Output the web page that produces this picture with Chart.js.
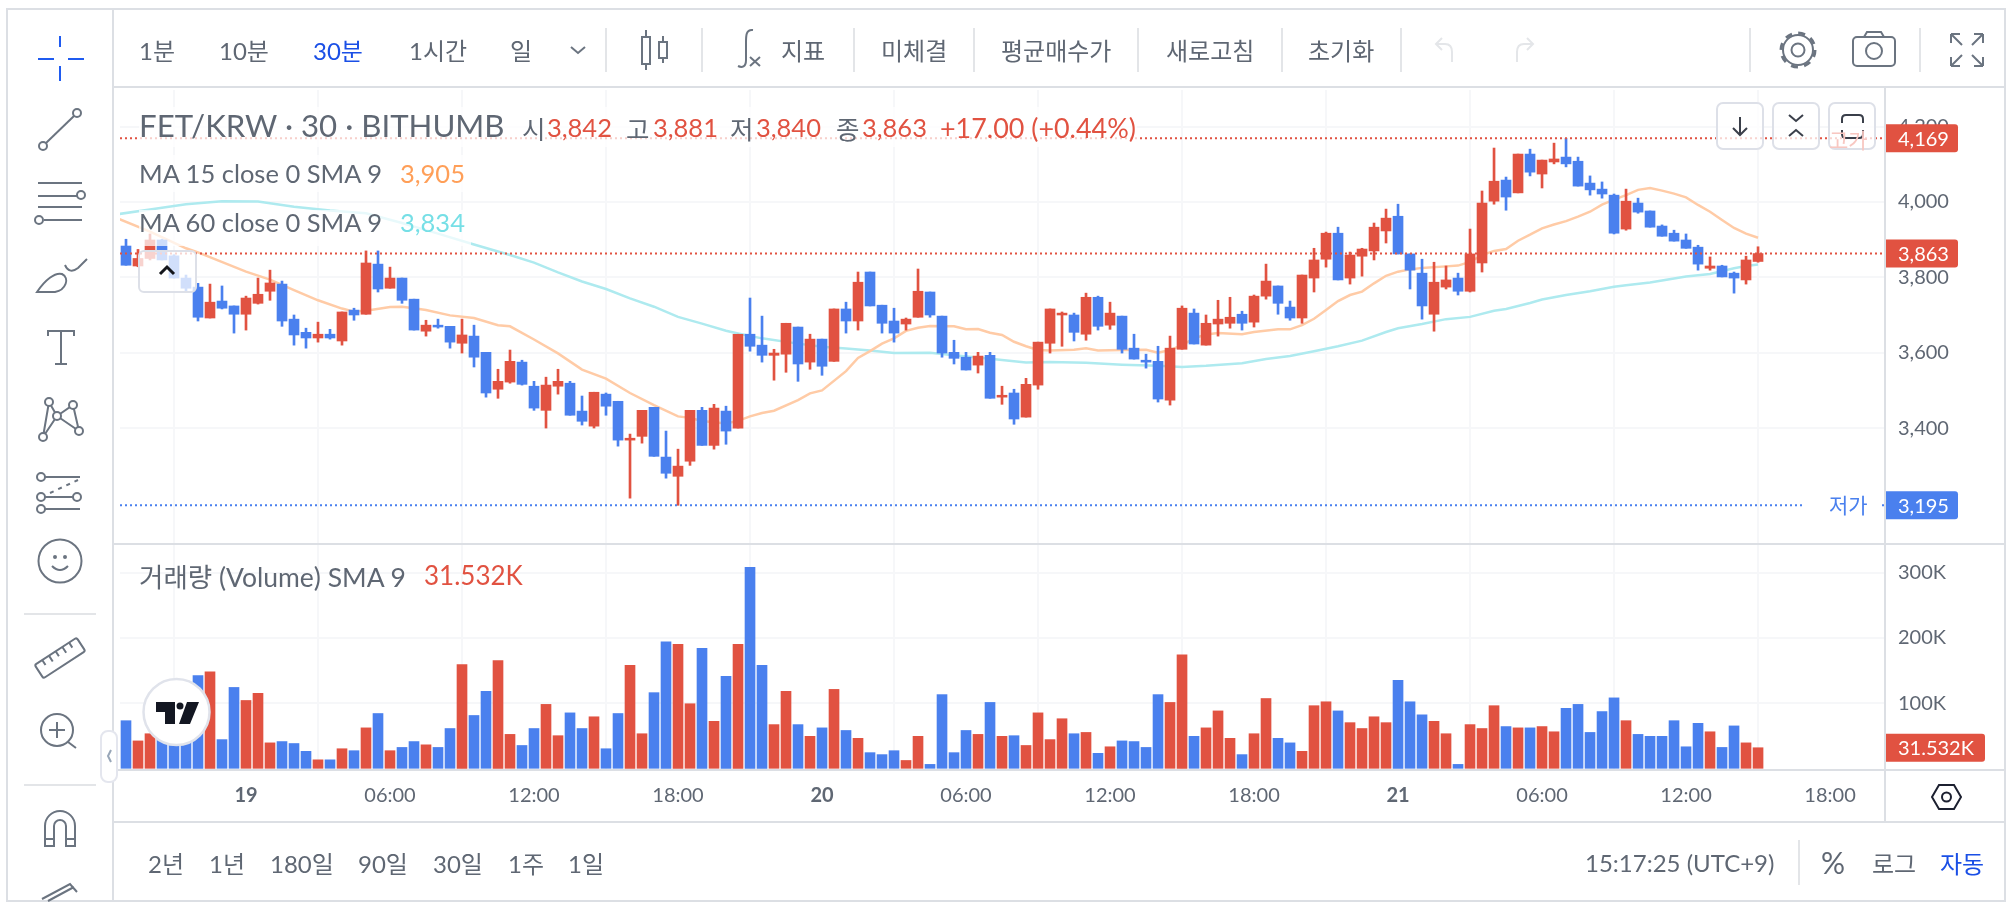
<!DOCTYPE html>
<html lang="ko">
<head>
<meta charset="utf-8">
<title>FET/KRW</title>
<script src="https://cdn.jsdelivr.net/npm/chart.js@4"></script>
<style>
html, body { margin: 0; background: #fff; }
body { width: 2012px; height: 906px; position: relative; overflow: hidden; font-family: Lato, "Noto Sans CJK KR", sans-serif; color: #5f6773; }
canvas { position: absolute; left: 120px; }
#priceChart { top: 90px; }
#volumeChart { top: 545px; }
#ui { position: absolute; left: 0; top: 0; }
.t { position: absolute; transform: translateY(-50%); white-space: nowrap; font-size: 24px; }
.lg { font-size: 25.5px; }
.r { color: #e15241; }
.b { color: #1a4fe6; }
</style>
</head>
<body>
<canvas id="priceChart" width="1884" height="453"></canvas>
<canvas id="volumeChart" width="1884" height="277"></canvas>

<svg id="ui" width="2012" height="906" fill="none" stroke="#6b7480" stroke-width="2">
  <!-- legend rows fade what is behind them -->
  <g stroke="none" fill="#fff" fill-opacity=".72">
    <rect x="139" y="107" width="998" height="40"/>
    <rect x="139" y="155" width="332" height="37"/>
    <rect x="139" y="210" width="332" height="36"/>
  </g>
  <!-- frame -->
  <g stroke="#dcdfe4">
    <rect x="7" y="9" width="1998" height="892"/>
    <path d="M113 9V901M113 87H2005M113 544H2005M113 770H2005M113 822H2005M1885 87V822"/>
  </g>
  <!-- toolbar separators -->
  <path stroke="#e3e5e8" d="M606 28V72M702 28V72M854 28V72M974 28V72M1138 28V72M1282 28V72M1401 28V72M1750 28V72M1920 28V72M1799 840V885M24 614H96M24 785H96"/>
  <!-- crosshair -->
  <path stroke="#1f5bf0" d="M60 36V47M60 66V81M38 59H54M68 59H84"/>
  <!-- sidebar icons -->
  <path d="M46 143L74 116"/><circle cx="43" cy="146" r="4"/><circle cx="77" cy="113" r="4"/>
  <path d="M38 183H82M38 196H77M38 207H82M44 220H82"/><circle cx="81" cy="195" r="4"/><circle cx="39" cy="220" r="4"/>
  <path d="M37 292C45 280 55 272 62 274C70 278 66 290 55 292ZM65 265C68 272 73 272 78 268L87 259"/>
  <path d="M48 336V331H74V336M61 331V364M55 364H67"/>
  <path d="M49 402L43 437L57 416L49 402M57 416L73 405L79 431L57 416"/>
  <g fill="#fff"><circle cx="49" cy="402" r="4"/><circle cx="73" cy="405" r="4"/><circle cx="57" cy="416" r="4"/><circle cx="43" cy="437" r="4"/><circle cx="79" cy="431" r="4"/></g>
  <path d="M45 477H80M45 497H73M45 509H80"/><path stroke-dasharray="4 5" d="M50 493L78 480"/>
  <circle cx="41" cy="477" r="4"/><circle cx="41" cy="497" r="4"/><circle cx="77" cy="497" r="4"/><circle cx="41" cy="509" r="4"/>
  <circle cx="60" cy="561" r="21.5"/><path d="M52 566Q60 574 68 566"/><circle cx="55" cy="557" r="1" /><circle cx="65" cy="557" r="1"/>
  <g transform="translate(60,658) rotate(-33)"><rect x="-25" y="-8" width="50" height="16" rx="2"/><path d="M-16 -8V-2M-8 -8V-1M0 -8V-2M8 -8V-1M16 -8V-2"/></g>
  <circle cx="57" cy="730" r="16"/><path d="M49 730H65M57 722V738M68 742L76 748"/>
  <path d="M45 846V826A15 15 0 0 1 75 826V846H66V826A6 6 0 0 0 54 826V846ZM45 839H54M66 839H75"/>
  <path d="M42 899L70 884L77 892M48 901L74 887"/>
  <!-- sidebar collapse tab -->
  <rect x="101" y="731" width="16" height="51" rx="7" fill="#fff" stroke="#e4e6ee"/>
  <path stroke="#98a6b8" d="M111 750L108 756L111 762"/>
  <!-- toolbar icons -->
  <path d="M571 47L578 53L585 47"/>
  <path d="M646 30V70M663 36V63"/>
  <rect x="642" y="37" width="8" height="27" fill="#fff"/><rect x="659" y="42" width="8" height="16" fill="#fff"/>
  <path d="M753 30C746 29 746 36 746 42V60C746 67 742 68 738 66M750 57L760 66M760 57L750 66"/>
  <path stroke="#e4e6e9" d="M1452 62V52Q1452 44 1445 44H1437M1442 38L1436 44L1442 50M1517 62V52Q1517 44 1524 44H1532M1527 38L1533 44L1527 50"/>
  <circle cx="1798" cy="50" r="15"/><circle cx="1798" cy="50" r="6.5"/><circle cx="1798" cy="50" r="17" stroke-width="3" stroke-dasharray="7 6.3"/>
  <rect x="1853" y="37" width="42" height="29" rx="4"/><path d="M1864 37L1867 32H1881L1884 37"/><circle cx="1874" cy="51" r="8"/>
  <path d="M1951 34H1960M1951 34V43M1952 35L1962 45M1983 34H1974M1983 34V43M1982 35L1972 45M1951 66H1960M1951 66V57M1952 65L1962 55M1983 66H1974M1983 66V57M1982 65L1972 55"/>
  <!-- chart buttons -->
  <g fill="#fff" fill-opacity=".75" stroke="#dde0e8">
    <rect x="139" y="251" width="57" height="41" rx="5"/>
    <rect x="1717" y="103" width="46" height="46" rx="6"/>
    <rect x="1773" y="103" width="46" height="46" rx="6"/>
    <rect x="1829" y="103" width="46" height="46" rx="6"/>
  </g>
  <path stroke="#14161c" stroke-width="3" d="M160 274L167 267L174 274"/>
  <path stroke="#3a3f4a" d="M1740 117V135M1733 128L1740 135L1747 128M1789 115L1796 121L1803 115M1789 136L1796 130L1803 136"/>
  <path stroke="#3a3f4a" d="M1842 123V119Q1842 115 1846 115H1859Q1863 115 1863 119V123M1842 130V134Q1842 138 1846 138H1859Q1863 138 1863 134V130"/>
  <!-- TradingView logo -->
  <circle cx="176.5" cy="712" r="33" fill="#fff" stroke="#e0e3eb" stroke-width="2.5"/>
  <path stroke="none" fill="#131722" d="M156 702H175V724H165V712H156ZM187 702H199L190 724H179Z"/>
  <circle cx="180" cy="706" r="3.5" stroke="none" fill="#131722"/>
  <!-- scale mode hexagon -->
  <path stroke="#1c2030" d="M1939 785H1954L1961 797L1954 809H1939L1932 797Z"/><circle cx="1946.5" cy="797" r="4.5" stroke="#1c2030"/>
</svg>

<div class="t" style="left:139px;top:49px">1분</div>
<div class="t" style="left:219px;top:49px">10분</div>
<div class="t b" style="left:313px;top:49px">30분</div>
<div class="t" style="left:409px;top:49px">1시간</div>
<div class="t" style="left:510px;top:49px">일</div>
<div class="t" style="left:781px;top:49px">지표</div>
<div class="t" style="left:881px;top:49px">미체결</div>
<div class="t" style="left:1001px;top:49px">평균매수가</div>
<div class="t" style="left:1166px;top:49px">새로고침</div>
<div class="t" style="left:1308px;top:49px">초기화</div>

<div class="t" style="left:139px;top:125px;font-size:31.2px">FET/KRW · 30 · BITHUMB</div>
<div class="t lg" style="left:522px;top:127px">시</div><div class="t lg r" style="left:547px;top:127px">3,842</div>
<div class="t lg" style="left:626px;top:127px">고</div><div class="t lg r" style="left:653px;top:127px">3,881</div>
<div class="t lg" style="left:730px;top:127px">저</div><div class="t lg r" style="left:756px;top:127px">3,840</div>
<div class="t lg" style="left:836px;top:127px">종</div><div class="t lg r" style="left:862px;top:127px">3,863</div>
<div class="t lg r" style="left:940px;top:127px;font-size:26.9px">+17.00 (+0.44%)</div>
<div class="t lg" style="left:139px;top:173px">MA 15 close 0 SMA 9</div><div class="t lg" style="left:400px;top:173px;color:#ff9f58">3,905</div>
<div class="t lg" style="left:139px;top:222px">MA 60 close 0 SMA 9</div><div class="t lg" style="left:400px;top:222px;color:#76dfe6">3,834</div>
<div class="t lg" style="left:139px;top:575px;font-size:26.5px">거래량 (Volume) SMA 9</div><div class="t lg r" style="left:424px;top:575px;font-size:26px">31.532K</div>
<div class="t" style="left:1829px;top:139px;font-size:21px;color:#f8c7c1">고가</div>
<div class="t" style="left:1829px;top:504px;font-size:21px;color:#4a80ee">저가</div>

<div class="t" style="left:148px;top:862px">2년</div>
<div class="t" style="left:209px;top:862px">1년</div>
<div class="t" style="left:270px;top:862px">180일</div>
<div class="t" style="left:358px;top:862px">90일</div>
<div class="t" style="left:433px;top:862px">30일</div>
<div class="t" style="left:508px;top:862px">1주</div>
<div class="t" style="left:568px;top:862px">1일</div>
<div class="t" style="left:1585px;top:862px">15:17:25 (UTC+9)</div>
<div class="t" style="left:1821px;top:862px;font-size:30px">%</div>
<div class="t" style="left:1872px;top:862px">로그</div>
<div class="t b" style="left:1940px;top:862px">자동</div>

<script>
// 30 minute candles
const opens = [
    3883,3830,3850,3899,3857,3798,3774,3692,3737,3724,
    3702,3731,3763,3782,3689,3654,3639,3649,3631,3713,
    3702,3835,3771,3798,3742,3657,3673,3670,3625,3644,
    3601,3503,3522,3575,3511,3447,3511,3519,3445,3405,
    3490,3471,3368,3378,3455,3323,3272,3312,3447,3354,
    3445,3400,3649,3620,3593,3596,3668,3575,3636,3577,
    3716,3684,3814,3726,3684,3676,3694,3761,3697,3601,
    3588,3567,3593,3482,3493,3429,3514,3625,3700,3700,
    3649,3747,3673,3697,3612,3580,3577,3474,3609,3705,
    3620,3676,3678,3702,3681,3750,3777,3721,3692,3798,
    3848,3917,3798,3856,3870,3923,3962,3862,3811,3702,
    3774,3798,3763,3838,4002,4058,4024,4127,4074,4106,
    4119,4108,4050,4034,4018,3928,3997,3976,3936,3917,
    3899,3880,3824,3830,3811,3793,3842
];
const closes = [
    3832,3850,3899,3846,3798,3771,3694,3734,3718,3702,
    3745,3755,3785,3684,3647,3639,3649,3639,3708,3700,
    3838,3769,3798,3739,3660,3673,3668,3628,3647,3588,
    3493,3524,3577,3516,3453,3514,3524,3434,3418,3495,
    3458,3368,3373,3447,3325,3280,3299,3447,3354,3453,
    3392,3649,3617,3593,3599,3678,3570,3636,3564,3716,
    3684,3787,3724,3678,3652,3689,3763,3700,3599,3585,
    3554,3591,3479,3487,3424,3516,3628,3716,3705,3654,
    3747,3670,3705,3609,3583,3575,3477,3612,3718,3623,
    3678,3689,3694,3678,3750,3790,3731,3692,3806,3846,
    3917,3793,3859,3875,3933,3957,3862,3819,3724,3787,
    3793,3763,3862,3997,4055,4013,4127,4079,4111,4114,
    4101,4042,4032,4021,3917,4002,3973,3933,3909,3896,
    3877,3835,3830,3801,3798,3846,3863
];
const highs = [
    3901,3874,3915,3901,3860,3806,3784,3782,3777,3724,
    3750,3798,3819,3790,3700,3665,3681,3662,3708,3718,
    3870,3870,3827,3798,3742,3686,3689,3670,3689,3673,
    3601,3556,3607,3580,3524,3535,3556,3524,3485,3495,
    3493,3471,3384,3447,3455,3392,3344,3447,3455,3463,
    3458,3649,3745,3697,3609,3678,3668,3649,3636,3716,
    3734,3814,3814,3726,3718,3692,3822,3761,3697,3633,
    3601,3601,3601,3511,3503,3532,3628,3716,3708,3705,
    3758,3750,3734,3697,3649,3596,3617,3644,3724,3716,
    3700,3739,3747,3710,3753,3835,3777,3737,3806,3877,
    3920,3933,3867,3877,3944,3981,3994,3862,3848,3840,
    3830,3811,3928,4029,4143,4066,4127,4140,4111,4156,
    4169,4119,4069,4053,4021,4034,4010,3976,3939,3925,
    3915,3885,3854,3832,3814,3856,3881
];
const lows = [
    3832,3828,3846,3846,3798,3760,3684,3692,3716,3652,
    3660,3729,3739,3670,3620,3612,3628,3636,3620,3686,
    3702,3761,3771,3731,3660,3644,3665,3612,3599,3562,
    3482,3479,3519,3514,3447,3400,3490,3434,3408,3400,
    3434,3352,3214,3360,3325,3267,3195,3301,3354,3344,
    3357,3400,3604,3575,3527,3548,3524,3556,3540,3577,
    3652,3660,3724,3652,3628,3660,3694,3694,3588,3570,
    3554,3546,3479,3463,3410,3429,3503,3599,3617,3631,
    3633,3660,3662,3599,3583,3559,3469,3461,3609,3623,
    3620,3644,3665,3660,3668,3742,3702,3686,3678,3761,
    3827,3793,3782,3803,3846,3891,3862,3769,3689,3657,
    3769,3753,3761,3814,3994,3978,4024,4069,4037,4101,
    4093,4042,4018,4010,3915,3925,3970,3933,3909,3896,
    3877,3819,3819,3801,3758,3782,3840
];
// volume in K
const volumes = [
    73,42,53,45,60,70,142,148,44,124,
    104,115,39,41,38,26,13,13,30,27,
    62,84,27,32,41,36,32,61,159,81,
    118,165,52,35,61,98,50,85,61,79,
    30,84,158,53,116,194,190,99,184,72,
    141,190,308,158,67,118,67,49,62,121,
    58,46,24,21,27,12,49,6,113,24,
    58,52,101,49,50,35,85,44,76,53,
    55,23,33,42,41,32,113,101,174,49,
    62,88,46,21,53,107,46,39,26,96,
    102,88,70,61,79,70,135,102,82,72,
    53,6,67,61,96,64,62,62,64,56,
    92,98,55,87,108,73,52,49,49,73,
    33,69,56,32,65,39,31.532
];

// moving averages, read at these candle numbers
const ma15Idx = [-1,2,5,6,10,12,14,16,18,19,20,22,23,24,25,27,29,31,32,34,36,38,40,42,44,46,47,48,50,51,52,53,54,56,57,58,60,61,62,63,64,65,66,67,69,70,71,72,73,74,75,76,77,79,80,81,83,85,86,87,88,89,90,91,93,94,96,97,98,99,100,101,102,103,104,105,106,107,108,110,111,112,113,114,115,116,117,118,119,120,121,122,123,124,125,126,127,128,129,130,131,132,133,134,135,136];
const ma15 = [3960,3921,3877,3866,3815,3794,3766,3739,3717,3709,3711,3721,3722,3718,3713,3699,3692,3673,3670,3635,3598,3555,3531,3493,3461,3431,3427,3419,3412,3419,3431,3440,3446,3474,3492,3500,3551,3586,3604,3624,3638,3658,3666,3671,3670,3662,3663,3653,3647,3629,3617,3607,3606,3608,3612,3606,3607,3608,3600,3607,3620,3638,3648,3652,3649,3655,3662,3662,3673,3690,3713,3737,3753,3762,3784,3804,3815,3821,3825,3829,3831,3841,3859,3870,3875,3897,3913,3930,3940,3949,3961,3974,3993,4006,4018,4032,4037,4030,4022,4012,3992,3974,3952,3931,3916,3905];
const ma60Idx = [-1,2,5,8,11,14,17,20,23,26,29,32,34,36,38,40,42,44,46,48,50,51,53,56,58,60,62,64,67,69,72,75,77,80,83,86,88,90,93,95,97,99,101,103,105,106,108,110,112,114,115,117,118,120,122,124,125,127,129,130,132,134,135,136];
const ma60 = [3966,3980,3994,4002,4001,3987,3977,3970,3944,3916,3887,3859,3839,3813,3789,3769,3744,3722,3695,3677,3658,3651,3638,3624,3616,3611,3606,3599,3600,3593,3584,3574,3575,3573,3568,3565,3562,3565,3572,3583,3591,3604,3617,3632,3655,3665,3676,3689,3695,3711,3716,3732,3741,3753,3763,3775,3779,3786,3797,3802,3809,3824,3830,3834];

// axes
const priceTicks = [3400, 3600, 3800, 4000, 4200];
const volumeTicks = [100, 200, 300];
const timeTicks = [10, 22, 34, 46, 58, 70, 82, 94, 106, 118, 130, 142];
const timeLabels = ["19", "06:00", "12:00", "18:00", "20", "06:00", "12:00", "18:00", "21", "06:00", "12:00", "18:00"];

// horizontal price marks
const highMark = 4169;
const lastMark = 3863;
const lowMark = 3195;
const lastVolume = 31.532;

const red = "#e15241";
const blue = "#4a80ee";
const gridColor = "#f6f7f9";
const candleColors = opens.map((o, i) => closes[i] >= o ? red : blue);

Chart.defaults.font.family = "Lato, 'Noto Sans CJK KR', sans-serif";
Chart.defaults.font.size = 20;
Chart.defaults.color = "#5f6773";
Chart.defaults.animation = false;
Chart.defaults.responsive = false;

// the panes line up by hand, so no scale may ask for label margins
function noPadding(axis) {
    axis.paddingLeft = axis.paddingRight = axis.paddingTop = axis.paddingBottom = 0;
}

function xAxis(showLabels) {
    return {
        type: "linear",
        offset: false,
        min: -0.5,
        max: 146.58,
        afterBuildTicks: axis => { axis.ticks = timeTicks.map(v => ({value: v})); },
        afterFit: axis => { axis.height = showLabels ? 52 : 0; noPadding(axis); },
        border: {display: false},
        grid: {color: gridColor, lineWidth: 2, drawTicks: false},
        ticks: {
            display: showLabels,
            autoSkip: false,
            maxRotation: 0,
            padding: 14,
            callback: v => timeLabels[timeTicks.indexOf(v)],
            font: ctx => ({size: 20, weight: ctx.index % 4 === 0 ? "bold" : "normal"})
        }
    };
}

function yAxis(tickValues, min, max, format) {
    return {
        position: "right",
        min: min,
        max: max,
        afterBuildTicks: axis => { axis.ticks = tickValues.map(v => ({value: v})); },
        afterFit: axis => { axis.width = 119; noPadding(axis); },
        border: {display: false},
        grid: {color: gridColor, lineWidth: 2, drawTicks: false},
        ticks: {padding: 13, callback: format}
    };
}

// little coloured box on the price axis
function tag(chart, y, text, color, right) {
    const ctx = chart.ctx;
    const left = chart.chartArea.right;
    ctx.fillStyle = color;
    ctx.beginPath();
    ctx.roundRect(left, y - 14, right - left, 28, [0, 3, 3, 0]);
    ctx.fill();
    ctx.fillStyle = "#fff";
    ctx.font = "20px Lato";
    ctx.textBaseline = "middle";
    ctx.textAlign = "left";
    ctx.fillText(text, left + 13, y + 1);
}

function dotted(chart, y, color, from, to) {
    const ctx = chart.ctx;
    ctx.save();
    ctx.strokeStyle = color;
    ctx.lineWidth = 2;
    ctx.setLineDash([2, 3]);
    ctx.beginPath();
    ctx.moveTo(from, y);
    ctx.lineTo(to, y);
    ctx.stroke();
    ctx.restore();
}

const priceMarks = {
    id: "priceMarks",
    afterDatasetsDraw(chart) {
        const y = chart.scales.y;
        const area = chart.chartArea;
        dotted(chart, y.getPixelForValue(highMark), red, area.left, area.right);
        dotted(chart, y.getPixelForValue(lastMark), red, area.left, area.right);
        dotted(chart, y.getPixelForValue(lowMark), blue, area.left, 1682);
        dotted(chart, y.getPixelForValue(lowMark), blue, 1762, area.right);
        tag(chart, y.getPixelForValue(highMark), "4,169", red, 1838);
        tag(chart, y.getPixelForValue(lastMark), "3,863", red, 1838);
        tag(chart, y.getPixelForValue(lowMark), "3,195", blue, 1838);
    }
};

const volumeMark = {
    id: "volumeMark",
    afterDatasetsDraw(chart) {
        tag(chart, chart.scales.y.getPixelForValue(lastVolume), "31.532K", red, 1865);
    }
};

//price pane
new Chart(document.getElementById("priceChart"), {
    type: "bar",
    data: {
        datasets: [
            {
                label: "body",
                data: opens.map((o, i) => ({x: i, y: [o, closes[i]]})),
                backgroundColor: candleColors,
                barThickness: 10,
                order: 1
            },
            {
                label: "wick",
                data: lows.map((l, i) => ({x: i, y: [l, highs[i]]})),
                backgroundColor: candleColors,
                barThickness: 2,
                order: 2
            },
            {
                type: "line",
                label: "MA 15",
                data: ma15Idx.map((x, i) => ({x: x, y: ma15[i]})),
                borderColor: "#ffcba6",
                borderWidth: 2.5,
                pointRadius: 0,
                order: 3
            },
            {
                type: "line",
                label: "MA 60",
                data: ma60Idx.map((x, i) => ({x: x, y: ma60[i]})),
                borderColor: "#aeeaef",
                borderWidth: 2.5,
                pointRadius: 0,
                order: 4
            }
        ]
    },
    options: {
        layout: {padding: 0},
        grouped: false,
        plugins: {legend: {display: false}, tooltip: {enabled: false}},
        scales: {
            x: xAxis(false),
            y: yAxis(priceTicks, 3095, 4297, v => v.toLocaleString("en-US"))
        }
    },
    plugins: [priceMarks]
});

//volume pane
new Chart(document.getElementById("volumeChart"), {
    type: "bar",
    data: {
        datasets: [{
            label: "Volume",
            data: volumes.map((v, i) => ({x: i, y: v})),
            backgroundColor: candleColors,
            barThickness: 10
        }]
    },
    options: {
        layout: {padding: 0},
        plugins: {legend: {display: false}, tooltip: {enabled: false}},
        scales: {
            x: xAxis(true),
            y: yAxis(volumeTicks, -2.6, 342.4, v => v + "K")
        }
    },
    plugins: [volumeMark]
});
</script>
</body>
</html>
